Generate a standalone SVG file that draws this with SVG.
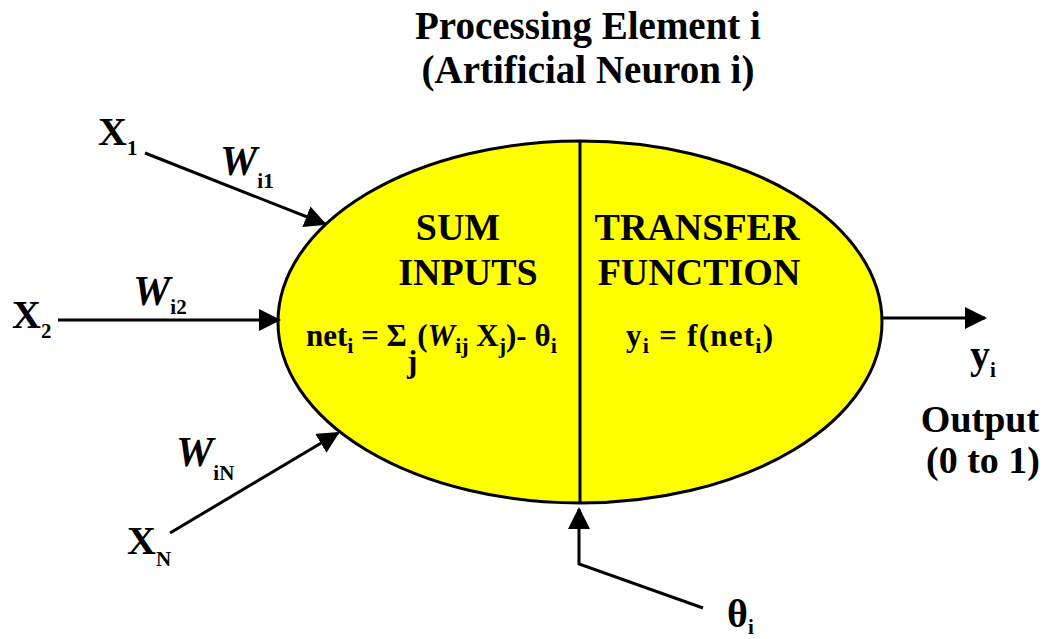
<svg xmlns="http://www.w3.org/2000/svg" width="1049" height="639" viewBox="0 0 1049 639">
<style>
text{font-family:"Liberation Serif","Times New Roman",serif;font-weight:bold;fill:#000}
.title{font-size:39px;text-anchor:middle}
.big{font-size:40px}
.lab{font-size:38px;text-anchor:middle}
.f{font-size:31px}
.sub{font-size:21px}
.fs{font-size:22px}
.w{font-size:42px;font-style:italic}
.ln{stroke:#000;stroke-width:3;fill:none}
</style>
<defs>
<marker id="ah" markerUnits="userSpaceOnUse" markerWidth="24" markerHeight="24" refX="20" refY="11" orient="auto" viewBox="0 0 24 24">
<path d="M0,0 L22,11 L0,22 z" fill="#000"/>
</marker>
</defs>
<rect width="1049" height="639" fill="#fff"/>
<g id="title">
<text class="title" x="588" y="39">Processing Element i</text>
<text class="title" x="588" y="83">(Artificial Neuron i)</text>
</g>
<g id="neuron">
<ellipse cx="580" cy="322" rx="302" ry="181" fill="#FFFF00" stroke="#000" stroke-width="3"/>
<line class="ln" x1="580" y1="141" x2="580" y2="503"/>
<text class="lab" x="458" y="240">SUM</text>
<text class="lab" x="468" y="285">INPUTS</text>
<text class="lab" x="697" y="240">TRANSFER</text>
<text class="lab" x="699" y="285">FUNCTION</text>
<text class="f" x="306" y="346">net<tspan class="fs" dy="7">i</tspan><tspan dy="-7"> = Σ</tspan><tspan dy="26">j</tspan><tspan dy="-26">(</tspan><tspan font-style="italic">W</tspan><tspan class="fs" dy="7">ij</tspan><tspan dy="-7"> X</tspan><tspan class="fs" dy="7">j</tspan><tspan dy="-7">)- θ</tspan><tspan class="fs" dy="7">i</tspan></text>
<text class="f" x="626" y="346" textLength="147" lengthAdjust="spacing">y<tspan class="fs" dy="7">i</tspan><tspan dy="-7"> = f(net</tspan><tspan class="fs" dy="7">i</tspan><tspan dy="-7">)</tspan></text>
</g>
<g id="connectors">
<line class="ln" x1="145" y1="153" x2="325" y2="224" marker-end="url(#ah)"/>
<line class="ln" x1="58" y1="320" x2="279" y2="320" marker-end="url(#ah)"/>
<line class="ln" x1="170" y1="533" x2="338" y2="433" marker-end="url(#ah)"/>
<line class="ln" x1="882" y1="318" x2="985" y2="318" marker-end="url(#ah)"/>
<polyline class="ln" points="703,608 579,564 579,509" marker-end="url(#ah)"/>
</g>
<g id="x1">
<text class="big" x="98" y="145">X<tspan class="sub" dy="10">1</tspan></text>
</g>
<g id="w1">
<text class="w" x="220" y="175">W<tspan class="sub" font-style="normal" dy="13">i1</tspan></text>
</g>
<g id="x2">
<text class="big" x="12" y="328">X<tspan class="sub" dy="10">2</tspan></text>
</g>
<g id="w2">
<text class="w" x="133" y="305">W<tspan class="sub" font-style="normal" dy="9">i2</tspan></text>
</g>
<g id="wn">
<text class="w" x="176" y="466">W<tspan class="sub" font-style="normal" dy="14">iN</tspan></text>
</g>
<g id="xn">
<text class="big" x="127" y="554">X<tspan class="sub" dy="12">N</tspan></text>
</g>
<g id="theta">
<text class="big" x="727" y="627">θ<tspan class="sub" dy="7">i</tspan></text>
</g>
<g id="output">
<text class="big" x="970" y="368">y<tspan class="sub" dy="9">i</tspan></text>
<text class="lab" x="980" y="432">Output</text>
<text class="lab" x="983" y="473">(0 to 1)</text>
</g>
</svg>
